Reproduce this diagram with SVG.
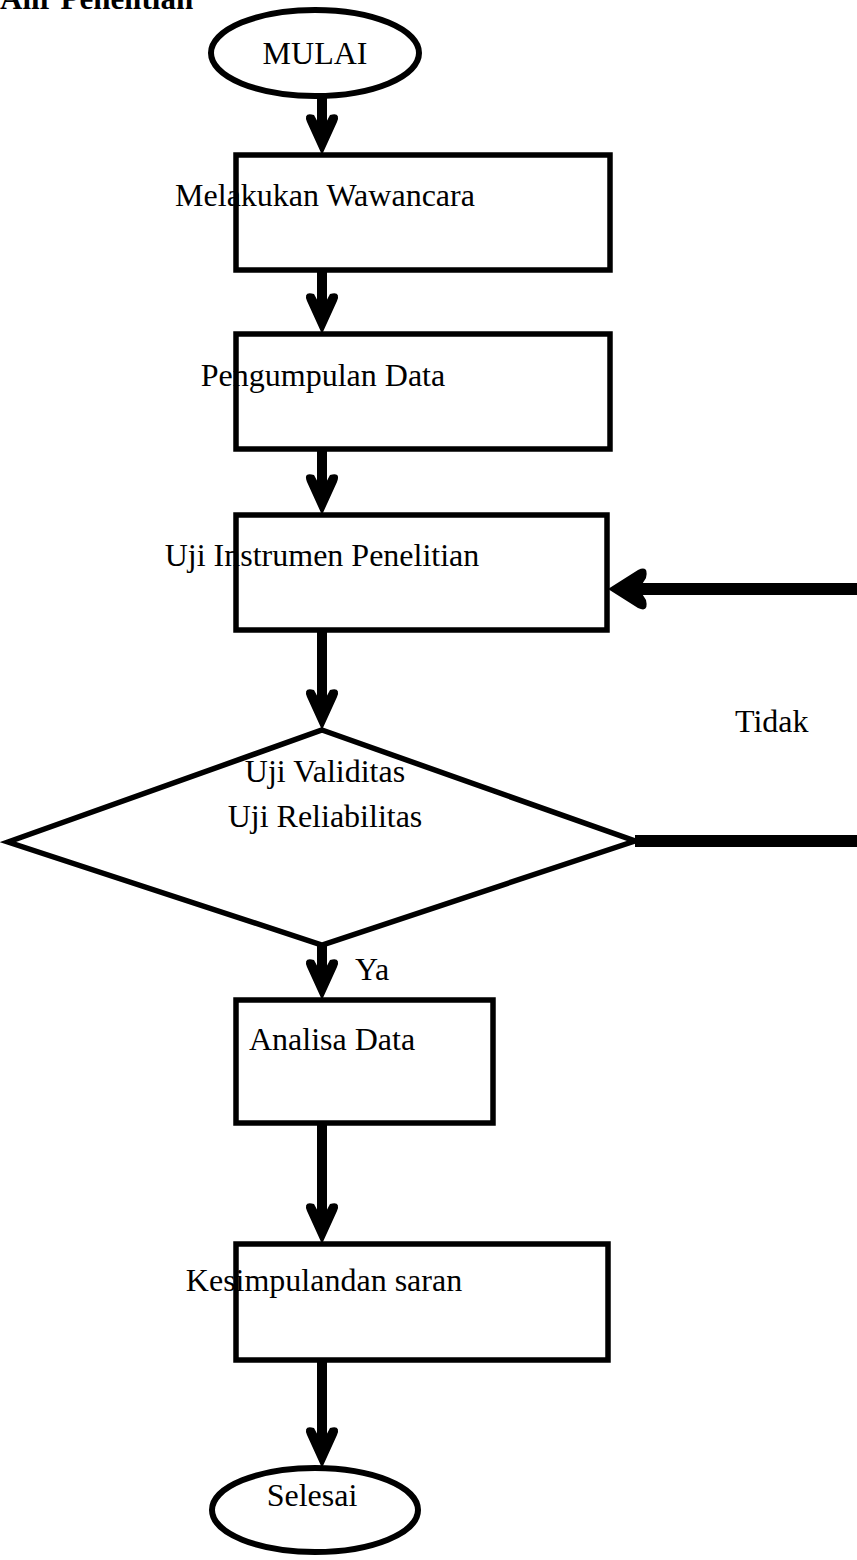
<svg xmlns="http://www.w3.org/2000/svg" width="857" height="1560" viewBox="0 0 857 1560">
<style>
  .box{fill:#fff;stroke:#000;stroke-width:5.5}
  .term{fill:#fff;stroke:#000;stroke-width:6}
  .lbl{font-family:"Liberation Serif","Times New Roman",serif;font-size:32px;fill:#000;text-anchor:middle}
  .side{font-family:"Liberation Serif","Times New Roman",serif;font-size:32px;fill:#000}
  .shaft{fill:none;stroke:#000;stroke-width:10;marker-end:url(#ah)}
  .back{fill:none;stroke:#000;stroke-width:12}
</style>
<defs>
  <marker id="ah" markerUnits="userSpaceOnUse" markerWidth="60" markerHeight="60" refX="-20" refY="0" orient="auto" overflow="visible">
    <path d="M0,0 L-33,-15 Q-43,-19 -40,-8 L-25,0 L-40,8 Q-43,19 -33,15 Z" fill="#000"/>
  </marker>
  <marker id="ahb" markerUnits="userSpaceOnUse" markerWidth="60" markerHeight="60" refX="-20" refY="0" orient="auto" overflow="visible">
    <path d="M0,0 L-30,-19 Q-41,-24 -38,-11 L-31,0 L-38,11 Q-41,24 -30,19 Z" fill="#000"/>
  </marker>
</defs>
<rect width="857" height="1560" fill="#fff"/>
<text x="0" y="9" style="font-family:'Liberation Serif','Times New Roman',serif;font-size:31px;font-weight:bold">Alir Penelitian</text>

<g id="connectors">
  <line class="shaft" x1="322" y1="97" x2="322" y2="135"/>
  <line class="shaft" x1="322" y1="270" x2="322" y2="314"/>
  <line class="shaft" x1="322" y1="449" x2="322" y2="495"/>
  <line class="shaft" x1="322" y1="630" x2="322" y2="710"/>
  <line class="shaft" x1="322" y1="945" x2="322" y2="980"/>
  <line class="shaft" x1="322" y1="1123" x2="322" y2="1224"/>
  <line class="shaft" x1="322" y1="1360" x2="322" y2="1448"/>
  <polyline class="back" points="635,841 875,841 875,589 628,589" style="marker-end:url(#ahb)"/>
  <text class="side" x="735" y="732">Tidak</text>
  <text class="side" x="355" y="980">Ya</text>
</g>

<g id="start">
  <ellipse class="term" cx="315" cy="53" rx="104" ry="43"/>
  <text class="lbl" x="315" y="64">MULAI</text>
</g>
<g id="wawancara">
  <rect class="box" x="236" y="155" width="374" height="115"/>
  <text class="lbl" x="325" y="206">Melakukan Wawancara</text>
</g>
<g id="pengumpulan">
  <rect class="box" x="236" y="334" width="374" height="115"/>
  <text class="lbl" x="323" y="386">Pengumpulan Data</text>
</g>
<g id="instrumen">
  <rect class="box" x="236" y="515" width="371" height="115"/>
  <text class="lbl" x="322" y="566">Uji Instrumen Penelitian</text>
</g>
<g id="uji">
  <polygon class="box" points="322,730 635,841 322,945 8,842"/>
  <text class="lbl" x="325" y="782">Uji Validitas</text>
  <text class="lbl" x="325" y="827">Uji Reliabilitas</text>
</g>
<g id="analisa">
  <rect class="box" x="236" y="1000" width="257" height="123"/>
  <text class="lbl" x="332" y="1050">Analisa Data</text>
</g>
<g id="kesimpulan">
  <rect class="box" x="236" y="1244" width="372" height="116"/>
  <text class="lbl" x="324" y="1291">Kesimpulandan saran</text>
</g>
<g id="selesai">
  <ellipse class="term" cx="315" cy="1510" rx="103" ry="42"/>
  <text class="lbl" x="312" y="1506">Selesai</text>
</g>
</svg>
